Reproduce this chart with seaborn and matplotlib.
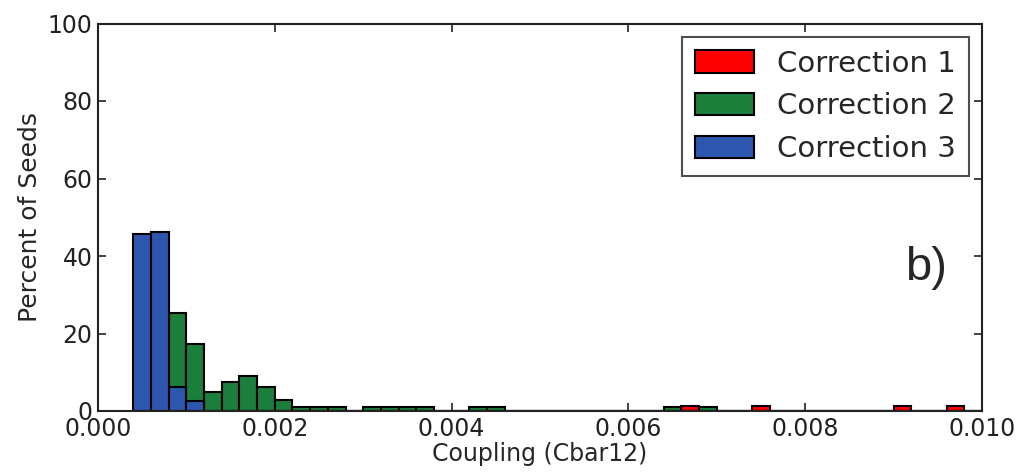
import numpy as np
import seaborn as sns
import matplotlib.pyplot as plt

# Bin edges del histograma (ancho 0.0002)
bin_edges = [round(0.0004 + 0.0002 * k, 4) for k in range(49)]

# Porcentaje de semillas por bin (borde izquierdo del bin)
corr1_left = [0.0066, 0.0074, 0.0090, 0.0096]
corr1_pct = [1.2, 1.2, 1.2, 1.2]

corr2_left = [0.0008, 0.0010, 0.0012, 0.0014, 0.0016, 0.0018, 0.0020,
              0.0022, 0.0024, 0.0026, 0.0030, 0.0032, 0.0034, 0.0036,
              0.0042, 0.0044, 0.0064, 0.0068]
corr2_pct = [25.4, 17.3, 4.8, 7.6, 9.0, 6.1, 2.8,
             1.1, 1.1, 1.1, 1.1, 1.1, 1.1, 1.1,
             1.1, 1.1, 1.1, 1.1]

corr3_left = [0.0004, 0.0006, 0.0008, 0.0010]
corr3_pct = [45.6, 46.1, 6.1, 2.6]

series = [
    ("Correction 1", corr1_left, corr1_pct, "#ff0000"),
    ("Correction 2", corr2_left, corr2_pct, "#1b7f3b"),
    ("Correction 3", corr3_left, corr3_pct, "#2d56ae"),
]

sns.set_style("ticks")
plt.rcParams['font.family'] = ['DejaVu Sans']

fig = plt.figure(figsize=(10.23, 4.72), dpi=100)
ax = fig.add_axes([98 / 1023, 1 - 411 / 472, 884 / 1023, 387.5 / 472])

for nombre, left, pct, color in series:
    centros = np.array(left) + 0.0001
    sns.histplot(x=centros, weights=pct, bins=bin_edges, ax=ax,
                 color=color, edgecolor="black", linewidth=1.5,
                 alpha=1, label=nombre)

ax.set_xlim(0, 0.010)
ax.set_ylim(0, 100)
ax.set_xticks([0.000, 0.002, 0.004, 0.006, 0.008, 0.010])
ax.set_xticklabels(["0.000", "0.002", "0.004", "0.006", "0.008", "0.010"])
ax.set_yticks([0, 20, 40, 60, 80, 100])
ax.tick_params(direction="in", top=True, right=True, length=6, width=1.2,
               labelsize=17, colors="#222222", pad=4)
for s in ax.spines.values():
    s.set_linewidth(1.5)
    s.set_color("#222222")

ax.set_xlabel("Coupling (Cbar12)", fontsize=17, labelpad=1)
ax.set_ylabel("Percent of Seeds", fontsize=18, labelpad=4)

leg = ax.legend(loc="upper right", fontsize=21, frameon=True, fancybox=False,
                edgecolor="#222222", handlelength=2.0, handleheight=0.8,
                labelspacing=0.5, borderaxespad=0.45, borderpad=0.45)
leg.get_frame().set_linewidth(1.5)

ax.text(0.913, 0.338, "b)", transform=ax.transAxes, fontsize=34,
        family=["Liberation Sans", "DejaVu Sans"], ha="left", va="baseline")

fig.savefig("out.png", dpi=100)
